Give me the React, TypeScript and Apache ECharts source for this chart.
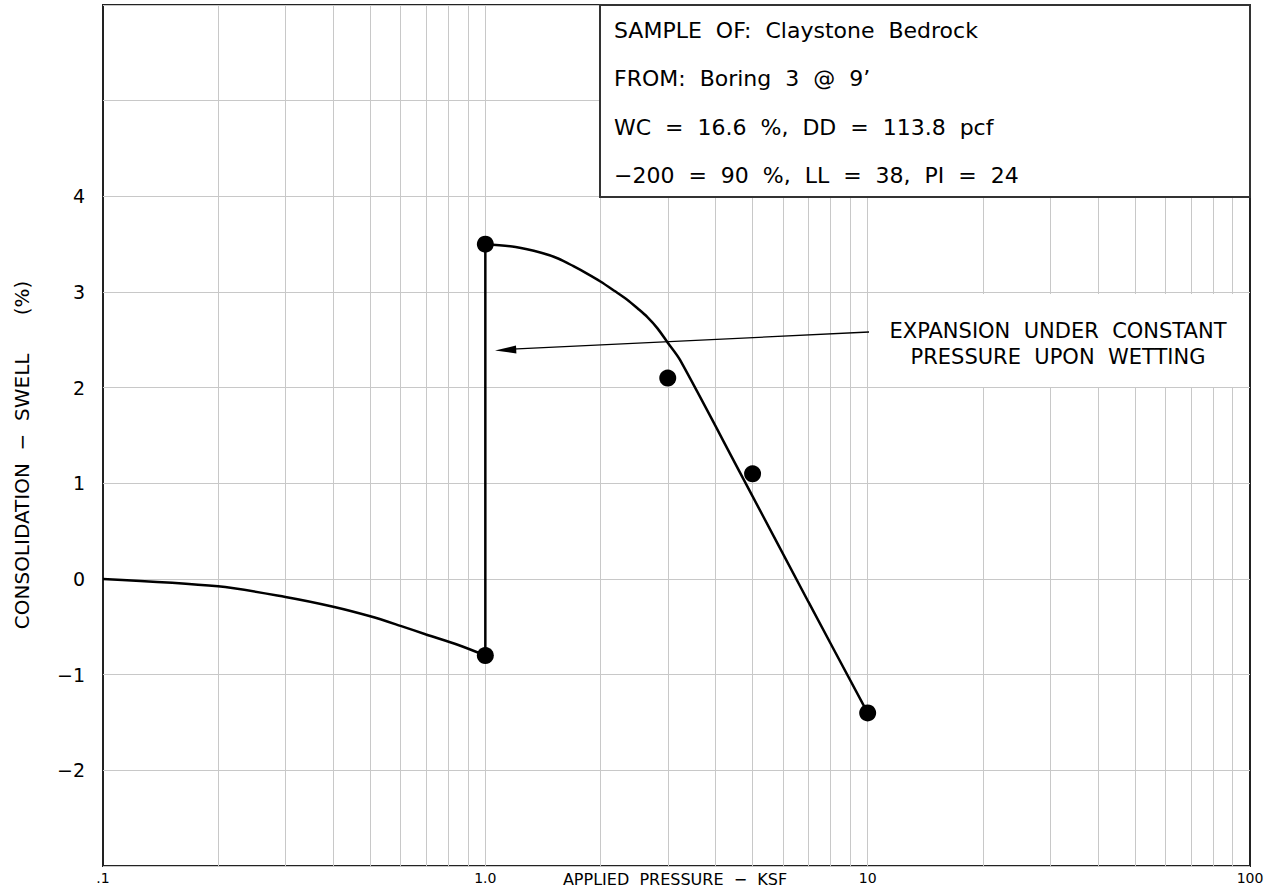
import React, { useEffect, useRef } from "react";
import * as echarts from "echarts";

// ---- data ----
const xTickLabels: Record<string, string> = { "0.1": ".1", "1": "1.0", "10": "10", "100": "100" };
const yLabelMin = -2;
const yLabelMax = 4;
const testPoints: number[][] = [
  [1, -0.8],
  [1, 3.5],
  [3, 2.1],
  [5, 1.1],
  [10, -1.4],
];
const loadingCurve: number[][] = [
  [0.1, 0],
  [0.2, -0.077],
  [0.3, -0.188],
  [0.4, -0.29],
  [0.5, -0.39],
  [0.6, -0.49],
  [0.7, -0.58],
  [0.85, -0.69],
  [1, -0.8],
];
const wettingLine: number[][] = [
  [1, -0.8],
  [1, 3.5],
];
const reboundCurve: number[][] = [
  [1, 3.5],
  [1.2, 3.47],
  [1.4, 3.41],
  [1.55, 3.35],
  [1.7, 3.27],
  [1.85, 3.19],
  [2, 3.11],
  [2.18, 3.01],
  [2.35, 2.92],
  [2.5, 2.83],
  [2.65, 2.74],
  [2.82, 2.62],
  [3, 2.47],
  [3.23, 2.29],
  [4.64, 1.11],
  [7, -0.24],
  [10, -1.4],
];
const verticalGridValues: number[] = [
  0.2, 0.3, 0.4, 0.5, 0.6, 0.7, 0.8, 0.9, 1,
  2, 3, 4, 5, 6, 7, 8, 9, 10,
  20, 30, 40, 50, 60, 70, 80, 90,
];
const sampleInfo: string[] = [
  "SAMPLE  OF:  Claystone  Bedrock",
  "FROM:  Boring  3  @  9’",
  "WC  =  16.6  %,  DD  =  113.8  pcf",
  "−200  =  90  %,  LL  =  38,  PI  =  24",
];
const annotationLines: string[] = ["EXPANSION  UNDER  CONSTANT", "PRESSURE  UPON  WETTING"];
const xAxisTitle = "APPLIED  PRESSURE  −  KSF";
const yAxisTitle = "CONSOLIDATION  −  SWELL      (%)";

const FONT = "DejaVu Sans";

export default function App() {
  const ref = useRef<HTMLDivElement>(null);

  useEffect(() => {
    if (!ref.current) return;
    const chart = echarts.init(ref.current, undefined, { renderer: "svg" });

    const mkLine = () => ({ color: "#000", width: 2.5 });

    const option: any = {
      animation: false,
      backgroundColor: "#fff",
      grid: {
        left: 103,
        top: 5,
        right: 20,
        bottom: 27,
        show: true,
        borderColor: "#222",
        borderWidth: 2,
        backgroundColor: "transparent",
      },
      xAxis: {
        type: "log",
        logBase: 10,
        min: 0.1,
        max: 100,
        axisLine: { show: false },
        axisTick: { show: false },
        splitLine: { show: false },
        axisLabel: {
          color: "#000",
          fontFamily: FONT,
          fontSize: 14,
          margin: 5,
          formatter: (v: number) => {
            const key = String(Math.round(v * 10) / 10);
            return xTickLabels[key] ?? "";
          },
        },
      },
      yAxis: {
        type: "value",
        min: -3,
        max: 6,
        interval: 1,
        axisLine: { show: false },
        axisTick: { show: false },
        splitLine: { show: true, lineStyle: { color: "#c8c8c8", width: 1 } },
        axisLabel: {
          color: "#000",
          fontFamily: FONT,
          fontSize: 19,
          margin: 18,
          formatter: (v: number) =>
            v >= yLabelMin && v <= yLabelMax ? String(v).replace("-", "−") : "",
        },
      },
      series: [
        {
          type: "line",
          name: "grid",
          data: [[0.1, 0]],
          symbol: "none",
          lineStyle: { opacity: 0 },
          silent: true,
          z: 1,
          markLine: {
            silent: true,
            z: 1,
            symbol: "none",
            label: { show: false },
            lineStyle: { type: "solid", color: "#c8c8c8", width: 1 },
            data: verticalGridValues.map((v) => ({ xAxis: v })),
          },
        },
        {
          type: "line",
          data: loadingCurve,
          smooth: 0.3,
          symbol: "none",
          lineStyle: mkLine(),
          z: 10,
        },
        {
          type: "line",
          data: wettingLine,
          symbol: "none",
          lineStyle: mkLine(),
          z: 10,
        },
        {
          type: "line",
          data: reboundCurve,
          smooth: 0.3,
          symbol: "none",
          lineStyle: mkLine(),
          z: 10,
        },
        {
          type: "scatter",
          data: testPoints,
          symbol: "circle",
          symbolSize: 17,
          itemStyle: { color: "#000", opacity: 1 },
          z: 11,
        },
      ],
      graphic: [
        // sample info box
        {
          type: "rect",
          z: 100,
          shape: { x: 600, y: 5, width: 650, height: 192 },
          style: { fill: "#fff", stroke: "#333", lineWidth: 2 },
        },
        ...sampleInfo.map((t, i) => ({
          type: "text",
          z: 101,
          x: 614,
          y: 30 + i * 48.5,
          style: {
            text: t,
            fill: "#000",
            font: `22px "${FONT}"`,
            textAlign: "left",
            textVerticalAlign: "middle",
          },
        })),
        // annotation background
        {
          type: "rect",
          z: 100,
          shape: { x: 869, y: 294, width: 380, height: 93 },
          style: { fill: "#fff", lineWidth: 0 },
        },
        ...annotationLines.map((t, i) => ({
          type: "text",
          z: 101,
          x: 1058,
          y: 331 + i * 26,
          style: {
            text: t,
            fill: "#000",
            font: `21px "${FONT}"`,
            textAlign: "center",
            textVerticalAlign: "middle",
          },
        })),
        // arrow
        {
          type: "line",
          z: 101,
          shape: { x1: 869, y1: 332, x2: 512, y2: 349.2 },
          style: { stroke: "#000", lineWidth: 1.3 },
        },
        {
          type: "polygon",
          z: 101,
          shape: {
            points: [
              [495, 350.5],
              [516, 345.5],
              [516.4, 353.5],
            ],
          },
          style: { fill: "#000" },
        },
        // axis titles
        {
          type: "text",
          z: 101,
          x: 675,
          y: 879,
          style: {
            text: xAxisTitle,
            fill: "#000",
            font: `16px "${FONT}"`,
            textAlign: "center",
            textVerticalAlign: "middle",
          },
        },
        {
          type: "text",
          z: 101,
          x: 22,
          y: 455,
          rotation: Math.PI / 2,
          style: {
            text: yAxisTitle,
            fill: "#000",
            font: `20px "${FONT}"`,
            textAlign: "center",
            textVerticalAlign: "middle",
          },
        },
      ],
    };

    chart.setOption(option);
    return () => chart.dispose();
  }, []);

  return (
    <div
      ref={ref}
      style={{ position: "absolute", left: 0, top: 0, width: 1270, height: 893, background: "#fff" }}
    />
  );
}
